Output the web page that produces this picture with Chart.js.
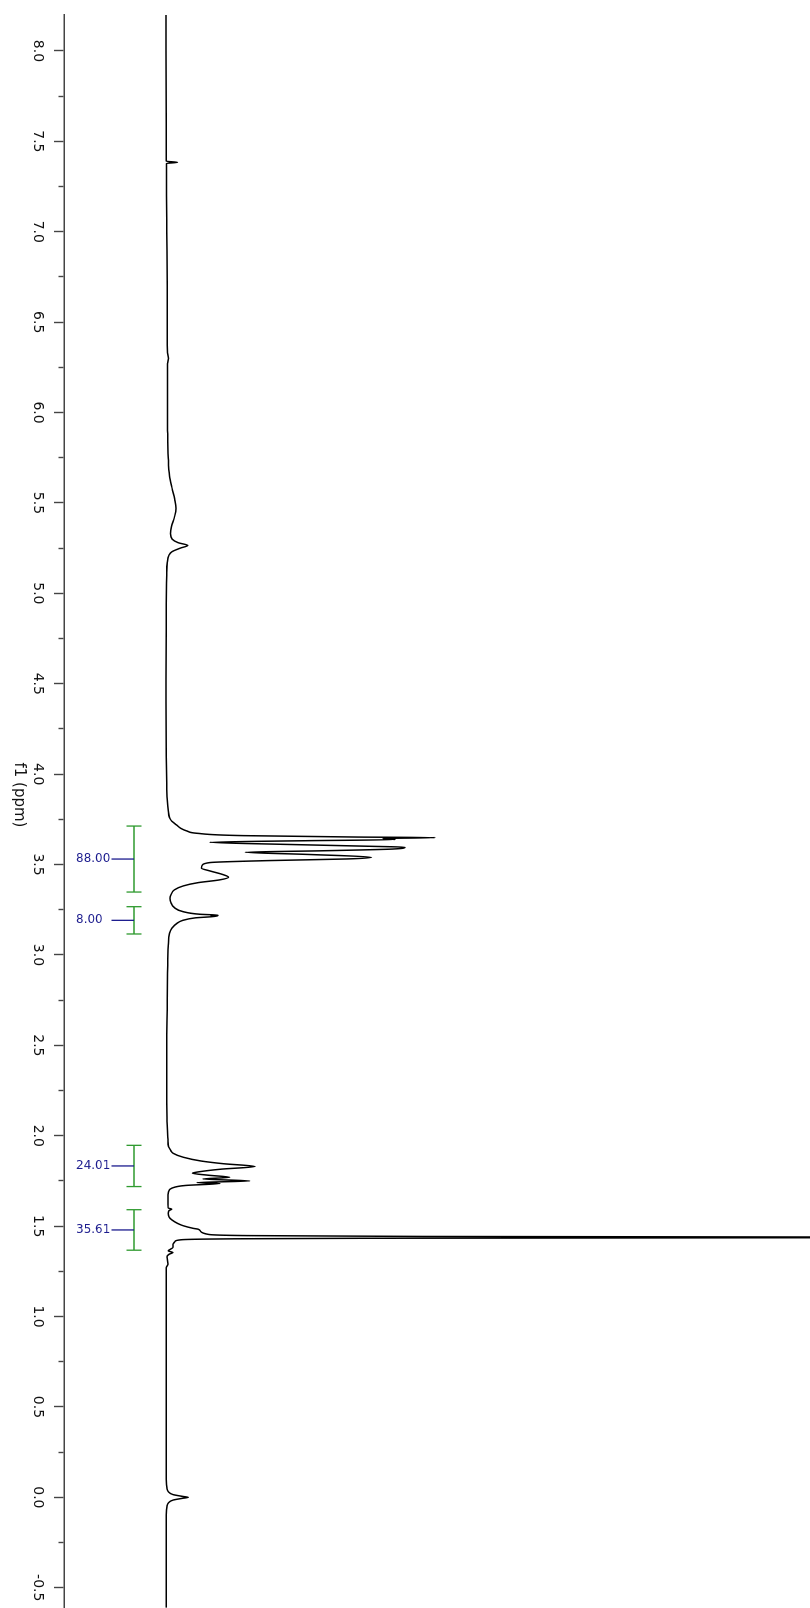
<!DOCTYPE html>
<html>
<head>
<meta charset="utf-8">
<script src="https://cdn.jsdelivr.net/npm/chart.js"></script>
<style>
  html, body { margin: 0; padding: 0; background: #fff; overflow: hidden; }
  body { width: 810px; height: 1608px; position: relative; }
  /* spectrum is laid out the usual way and turned a quarter turn clockwise */
  .spectrum-wrap {
    position: absolute; left: 0; top: 0;
    width: 1608px; height: 810px;
    transform-origin: 0 0;
    transform: translate(810px, 0) rotate(90deg);
  }
</style>
</head>
<body>
<div class="spectrum-wrap"><canvas class="nmr-chart" width="1608" height="810"></canvas></div>
<script>
    // chemical shift (ppm) and intensity of the trace
    var shifts = [
        8.20, 7.60, 7.40, 7.390, 7.384, 7.378, 7.20, 7.00, 6.70, 6.45,
        6.33, 6.30, 6.27, 6.10, 5.90, 5.75, 5.65, 5.58, 5.52, 5.47,
        5.42, 5.37, 5.33, 5.30, 5.28, 5.265, 5.25, 5.23, 5.21, 5.17,
        5.10, 4.80, 4.40, 4.10, 3.95, 3.86, 3.80, 3.76, 3.74, 3.72,
        3.70, 3.685, 3.673, 3.660, 3.652, 3.649, 3.644, 3.638, 3.632, 3.623,
        3.612, 3.600, 3.596, 3.586, 3.576, 3.568, 3.556, 3.540, 3.531, 3.522,
        3.511, 3.495, 3.480, 3.465, 3.445, 3.430, 3.415, 3.400, 3.382, 3.36,
        3.335, 3.314, 3.29, 3.259, 3.24, 3.225, 3.220, 3.218, 3.215, 3.205,
        3.19, 3.175, 3.148, 3.12, 3.05, 2.90, 2.70, 2.50, 2.30, 2.10,
        1.98, 1.94, 1.92, 1.903, 1.881, 1.86, 1.845, 1.830, 1.815, 1.800,
        1.793, 1.782, 1.770, 1.761, 1.750, 1.741, 1.736, 1.725, 1.710, 1.69,
        1.65, 1.60, 1.594, 1.585, 1.571, 1.55, 1.535, 1.515, 1.502, 1.488,
        1.483, 1.470, 1.455, 1.448, 1.443, 1.440, 1.438, 1.436, 1.433, 1.429,
        1.424, 1.415, 1.40, 1.383, 1.363, 1.354, 1.345, 1.33, 1.29, 1.27,
        1.00, 0.50, 0.10, 0.05, 0.03, 0.015, 0.005, 0.0, -0.005, -0.015,
        -0.03, -0.05, -0.10, -0.61
    ];
    var intensities = [
        0.00, 0.02, 0.05, 0.05, 1.8, 0.08, 0.08, 0.12, 0.18, 0.20,
        0.25, 0.38, 0.25, 0.22, 0.25, 0.35, 0.55, 0.95, 1.35, 1.55,
        1.30, 0.85, 0.70, 0.95, 1.9, 3.37, 2.2, 0.9, 0.45, 0.2,
        0.1, 0.02, 0.0, 0.02, 0.1, 0.2, 0.35, 0.55, 0.9, 1.6,
        2.3, 3.3, 4.8, 12, 30, 41.8, 33.7, 35.6, 22, 6.8,
        18, 33, 37.1, 35.3, 24, 12.3, 22, 31.9, 28.1, 16,
        6.8, 5.6, 5.5, 6.8, 8.8, 9.7, 8.3, 5.0, 2.7, 1.3,
        0.8, 0.62, 0.75, 1.4, 2.6, 5.3, 8.1, 7.0, 8.0, 4.5,
        2.5, 1.7, 0.9, 0.55, 0.35, 0.25, 0.18, 0.12, 0.12, 0.15,
        0.3, 0.4, 0.7, 1.1, 2.7, 5.5, 9, 13.8, 8.5, 5.0,
        4.1, 6.5, 9.9, 5.7, 13.0, 4.8, 8.4, 3.0, 0.9, 0.4,
        0.3, 0.35, 0.9, 0.45, 0.36, 0.5, 0.9, 1.8, 2.7, 4.2,
        5.0, 5.4, 6.5, 12, 40, 100, 160, 100, 30, 8,
        2.2, 1.4, 1.1, 1.1, 0.36, 1.1, 0.5, 0.15, 0.3, 0.05,
        0.05, 0.05, 0.05, 0.15, 0.4, 1.1, 2.6, 3.47, 2.6, 1.1,
        0.4, 0.15, 0.05, 0.02
    ];

    // labelled shift ticks
    var shiftLabels = [8.0, 7.5, 7.0, 6.5, 6.0, 5.5, 5.0, 4.5, 4.0, 3.5, 3.0, 2.5, 2.0, 1.5, 1.0, 0.5, 0.0, -0.5];

    // integration regions
    var integralFrom = [3.713, 3.267, 1.947, 1.591];
    var integralTo = [3.348, 3.116, 1.719, 1.367];
    var integralValues = [88.00, 8.00, 24.01, 35.61];

    var FONT = "'DejaVu Sans', Verdana, sans-serif";

    function isMajor(v) {
        return Math.abs(v * 2 - Math.round(v * 2)) < 1e-6;
    }

    var integralPlugin = {
        id: "integrals",
        afterDatasetsDraw: function(chart) {
            var ctx = chart.ctx,
                xs = chart.scales.x,
                base = chart.chartArea.bottom,
                barV = base - 70;
            ctx.save();
            for (var i = 0; i < integralValues.length; i++) {
                var u1 = xs.getPixelForValue(integralFrom[i]),
                    u2 = xs.getPixelForValue(integralTo[i]),
                    mid = (u1 + u2) / 2;
                ctx.strokeStyle = "#2f9a2f";
                ctx.lineWidth = 1.3;
                ctx.beginPath();
                ctx.moveTo(u1, barV); ctx.lineTo(u2, barV);
                ctx.moveTo(u1, barV - 7.5); ctx.lineTo(u1, barV + 7.5);
                ctx.moveTo(u2, barV - 7.5); ctx.lineTo(u2, barV + 7.5);
                ctx.stroke();
                ctx.strokeStyle = "#1c1c8e";
                ctx.beginPath();
                ctx.moveTo(mid, barV); ctx.lineTo(mid, barV + 22.5);
                ctx.stroke();
                // label reads horizontally once the page is turned
                ctx.save();
                ctx.translate(mid, base - 12);
                ctx.rotate(-Math.PI / 2);
                ctx.fillStyle = "#1c1c8e";
                ctx.font = "12px " + FONT;
                ctx.textAlign = "left";
                ctx.textBaseline = "middle";
                ctx.fillText(integralValues[i].toFixed(2), 0, 0);
                ctx.restore();
            }
            // axis title
            ctx.fillStyle = "#111";
            ctx.font = "15px " + FONT;
            ctx.textAlign = "center";
            ctx.textBaseline = "middle";
            ctx.fillText("f1 (ppm)", 795, 791);
            ctx.restore();
        }
    };

    new Chart(document.getElementsByClassName("nmr-chart")[0].getContext("2d"), {
        type: "line",
        data: {
            datasets: [{
                label: "1H",
                data: shifts.map(function(p, i) { return { x: p, y: intensities[i] }; }),
                borderColor: "#000",
                borderWidth: 1.5,
                pointRadius: 0,
                fill: false,
                cubicInterpolationMode: "monotone"
            }]
        },
        options: {
            responsive: false,
            animation: false,
            layout: { padding: { left: 15, right: 0, top: 0, bottom: 0 } },
            plugins: {
                legend: { display: false },
                tooltip: { enabled: false }
            },
            scales: {
                x: {
                    type: "linear",
                    reverse: true,
                    min: -0.612,
                    max: 8.199,
                    afterBuildTicks: function(scale) {
                        var ticks = [];
                        shiftLabels.forEach(function(v) {
                            ticks.push({ value: v });
                            if (v > -0.5) ticks.push({ value: v - 0.25 });
                        });
                        scale.ticks = ticks.sort(function(a, b) { return a.value - b.value; });
                    },
                    afterFit: function(scale) { scale.height = 64; },
                    border: { display: true, color: "#444", width: 1.5 },
                    grid: {
                        drawOnChartArea: false,
                        tickLength: 10,
                        tickColor: "#444",
                        tickWidth: 1.4,
                        tickBorderDash: function(c) {
                            return c.tick && !isMajor(c.tick.value) ? [5, 40] : [];
                        }
                    },
                    ticks: {
                        autoSkip: false,
                        maxRotation: 0,
                        padding: 8,
                        color: "#111",
                        font: { family: FONT, size: 14 },
                        callback: function(value) {
                            return isMajor(value) ? value.toFixed(1) : "";
                        }
                    }
                },
                y: {
                    display: false,
                    min: -15.84,
                    max: 100
                }
            }
        },
        plugins: [integralPlugin]
    });
</script>
</body>
</html>
